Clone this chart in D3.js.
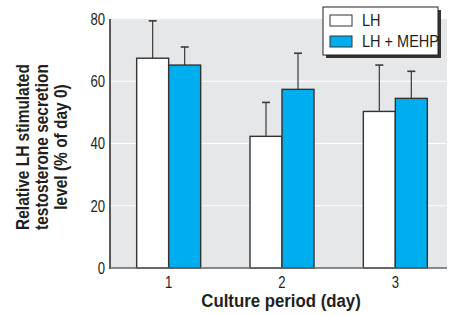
<!DOCTYPE html>
<html>
<head>
<meta charset="utf-8">
<script src="https://cdn.jsdelivr.net/npm/d3@7"></script>
<style>
  body { margin: 0; background: #fff; }
  svg { display: block; }
  text { font-family: "Liberation Sans", Arial, sans-serif; fill: #231f20; }
</style>
</head>
<body>
<svg id="chart" width="453" height="315"></svg>
<script>
// data
let days = ['1', '2', '3'];
let series = ['LH', 'LH + MEHP'];
let lh_mean = [67.4, 42.3, 50.3];
let lh_err = [79.4, 53.2, 65.2];      // top of error bar
let mehp_mean = [65.2, 57.4, 54.5];
let mehp_err = [71, 69, 63.2];
let y_ticks = [0, 20, 40, 60, 80];

let colors = {'LH': '#ffffff', 'LH + MEHP': '#00aeef'};

let plot = {left: 110, right: 447, top: 19, bottom: 268};

let svg = d3.select('#chart');

let sy = d3.scaleLinear().domain([0, 80]).range([plot.bottom, plot.top]);
let sx = d3.scaleBand().domain(days).range([112, 452]);
let sg = d3.scaleBand().domain(series).range([-32, 32]);

let rows = [];
days.forEach((d, i) => {
  rows.push({day: d, s: 'LH', v: lh_mean[i], e: lh_err[i]});
  rows.push({day: d, s: 'LH + MEHP', v: mehp_mean[i], e: mehp_err[i]});
});

// background
svg.append('rect')
  .attr('x', plot.left).attr('y', plot.top)
  .attr('width', plot.right - plot.left).attr('height', plot.bottom - plot.top)
  .attr('fill', '#e6e7e8');

// grid
svg.append('g').selectAll('line')
  .data(y_ticks.filter(t => t > 0 && t < 80))
  .join('line')
  .attr('x1', plot.left).attr('x2', plot.right)
  .attr('y1', d => sy(d)).attr('y2', d => sy(d))
  .attr('stroke', '#fff').attr('stroke-width', 1);

let cx = d => sx(d.day) + sx.bandwidth() / 2;

// error bars
let eb = svg.append('g').selectAll('g').data(rows).join('g');
eb.append('line')
  .attr('x1', d => cx(d) + sg(d.s) + sg.bandwidth() / 2)
  .attr('x2', d => cx(d) + sg(d.s) + sg.bandwidth() / 2)
  .attr('y1', d => sy(d.v)).attr('y2', d => sy(d.e))
  .attr('stroke', '#3a3a3a').attr('stroke-width', 1.2);
eb.append('line')
  .attr('x1', d => cx(d) + sg(d.s) + sg.bandwidth() / 2 - 4)
  .attr('x2', d => cx(d) + sg(d.s) + sg.bandwidth() / 2 + 4)
  .attr('y1', d => sy(d.e)).attr('y2', d => sy(d.e))
  .attr('stroke', '#3a3a3a').attr('stroke-width', 1.6);

// bars
svg.append('g').selectAll('rect').data(rows).join('rect')
  .attr('x', d => cx(d) + sg(d.s))
  .attr('y', d => sy(d.v))
  .attr('width', sg.bandwidth())
  .attr('height', d => sy(0) - sy(d.v))
  .attr('fill', d => colors[d.s])
  .attr('stroke', '#333').attr('stroke-width', 1.4);

// axes lines
svg.append('line')
  .attr('x1', plot.left).attr('x2', plot.left)
  .attr('y1', plot.top).attr('y2', plot.bottom + 1)
  .attr('stroke', '#333').attr('stroke-width', 1.6);
svg.append('line')
  .attr('x1', plot.left).attr('x2', plot.right)
  .attr('y1', plot.bottom).attr('y2', plot.bottom)
  .attr('stroke', '#666').attr('stroke-width', 1.6);

// y tick labels
svg.append('g').selectAll('text').data(y_ticks).join('text')
  .attr('transform', d => `translate(105,${sy(d)}) scale(0.82,1)`)
  .attr('dy', '0.36em')
  .attr('text-anchor', 'end')
  .style('font-size', '16px')
  .text(d => d);

// x tick labels
svg.append('g').selectAll('text').data(days).join('text')
  .attr('transform', d => `translate(${sx(d) + sx.bandwidth() / 2},288) scale(0.82,1)`)
  .attr('text-anchor', 'middle')
  .style('font-size', '16px')
  .text(d => d);

// x title
svg.append('text')
  .attr('transform', 'translate(281,307) scale(0.96,1)')
  .attr('text-anchor', 'middle')
  .style('font-size', '17.5px').style('font-weight', 'bold')
  .text('Culture period (day)');

// y title
let yt = svg.append('text')
  .attr('transform', 'translate(0,147) rotate(-90) scale(0.86,1)')
  .attr('text-anchor', 'middle')
  .style('font-size', '18px').style('font-weight', 'bold');
['Relative LH stimulated', 'testosterone secretion', 'level (% of day 0)'].forEach((t, i) => {
  yt.append('tspan').attr('x', 0).attr('y', 29 + i * 19).text(t);
});

// legend
let lg = svg.append('g');
lg.append('rect').attr('x', 326).attr('y', 10).attr('width', 115).attr('height', 48).attr('fill', '#333');
lg.append('rect').attr('x', 323).attr('y', 7).attr('width', 115).attr('height', 48)
  .attr('fill', '#fff').attr('stroke', '#222').attr('stroke-width', 1);
series.forEach((s, i) => {
  let y = 15 + i * 21;
  lg.append('rect').attr('x', 330).attr('y', y).attr('width', 22).attr('height', 11)
    .attr('fill', colors[s]).attr('stroke', '#333').attr('stroke-width', 1);
  lg.append('text')
    .attr('transform', `translate(362,${y + 11}) scale(0.88,1)`)
    .style('font-size', '16.5px').text(s);
});
</script>
</body>
</html>
